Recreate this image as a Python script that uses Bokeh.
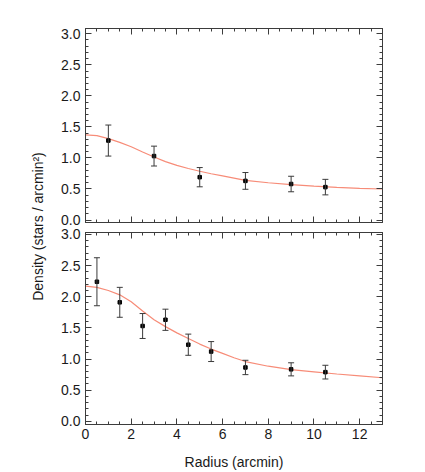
import numpy as np
from bokeh.plotting import figure
from bokeh.models import (Range1d, LinearAxis, SingleIntervalTicker, Whisker,
                          ColumnDataSource, CustomJSTickFormatter, TeeHead,
                          NumeralTickFormatter)
from bokeh.layouts import row, column
from bokeh.core.properties import value
from bokeh.embed import file_html
from bokeh.resources import INLINE

# ---------------- data ----------------
top_r = [1.0, 3.0, 5.0, 7.0, 9.0, 10.5]
top_density = [1.28, 1.03, 0.69, 0.63, 0.58, 0.53]
top_err = [0.25, 0.16, 0.155, 0.135, 0.125, 0.125]

bot_r = [0.5, 1.5, 2.5, 3.5, 4.5, 5.5, 7.0, 9.0, 10.5]
bot_density = [2.24, 1.91, 1.53, 1.63, 1.23, 1.12, 0.865, 0.835, 0.79]
bot_err = [0.385, 0.24, 0.20, 0.17, 0.17, 0.16, 0.115, 0.105, 0.11]

fit_r_top = [0, 0.5, 1, 1.5, 2, 2.5, 3, 3.5, 4, 4.5, 5, 5.5, 6, 6.5, 7, 8, 9, 10, 11, 12, 13]
fit_top = [1.37, 1.36, 1.31, 1.25, 1.18, 1.095, 1.015, 0.94, 0.88, 0.83, 0.785,
           0.745, 0.71, 0.675, 0.64, 0.60, 0.57, 0.545, 0.525, 0.51, 0.50]

fit_r_bot = [0, 0.5, 1, 1.5, 2, 2.5, 3, 3.5, 4, 4.5, 5, 5.5, 6, 6.5, 7, 8, 9, 10, 11, 12, 13]
fit_bot = [2.17, 2.15, 2.10, 2.03, 1.92, 1.77, 1.63, 1.52, 1.42, 1.33, 1.24,
           1.16, 1.09, 1.02, 0.96, 0.885, 0.83, 0.795, 0.76, 0.73, 0.70]

x_label = "Radius (arcmin)"
y_label = "Density (stars / arcmin²)"

FONT = "Liberation Sans"
AX = "#3c3c3c"
TXT = "#1a1a1a"
FIT = "#F78C78"
ERR = "#3a3a3a"


def style_axis(ax, is_x, labels):
    if is_x:
        ax.ticker = SingleIntervalTicker(interval=2, num_minor_ticks=4)
    else:
        ax.ticker = SingleIntervalTicker(interval=0.5, num_minor_ticks=5)
        ax.formatter = NumeralTickFormatter(format="0.0")
    ax.major_tick_in = 6
    ax.major_tick_out = 0
    ax.minor_tick_in = 3
    ax.minor_tick_out = 0
    ax.axis_line_color = AX
    ax.major_tick_line_color = AX
    ax.minor_tick_line_color = AX
    ax.major_label_text_font = FONT
    ax.major_label_text_font_size = "14px"
    ax.major_label_text_color = TXT
    ax.major_label_standoff = 5
    if not labels:
        ax.formatter = CustomJSTickFormatter(code="return ''")
        ax.major_label_text_font_size = "0px"
        ax.major_label_standoff = 0


def make_panel(ymin, ymax, fh, tb, bb, xlabels, r, d, e, fr, fy):
    p = figure(frame_width=297, frame_height=fh,
               x_range=Range1d(0, 13), y_range=Range1d(ymin, ymax),
               output_backend="svg", toolbar_location=None,
               min_border_left=37, min_border_right=10,
               min_border_top=tb, min_border_bottom=bb)
    p.grid.visible = False
    p.outline_line_color = AX
    p.background_fill_color = "white"
    p.border_fill_color = "white"
    p.add_layout(LinearAxis(), "above")
    p.add_layout(LinearAxis(), "right")
    style_axis(p.below[0], True, xlabels)
    style_axis(p.above[0], True, False)
    style_axis(p.left[0], False, True)
    style_axis(p.right[0], False, False)

    up = [a + b for a, b in zip(d, e)]
    lo = [a - b for a, b in zip(d, e)]
    src = ColumnDataSource(dict(r=r, d=d, up=up, lo=lo))
    p.line(fr, fy, line_color=FIT, line_width=1.2)
    w = Whisker(base="r", upper="up", lower="lo", source=src,
                line_color=ERR, line_width=1,
                upper_head=TeeHead(size=6, line_color=ERR, line_width=1),
                lower_head=TeeHead(size=6, line_color=ERR, line_width=1),
                level="glyph")
    p.add_layout(w)
    p.scatter("r", "d", source=src, marker="square", size=3.5,
              fill_color="black", line_color="black")
    return p


p1 = make_panel(-0.04, 3.085, 194, 28, 5, False,
                top_r, top_density, top_err, fit_r_top, fit_top)
p2 = make_panel(-0.05, 3.03, 192, 5, 46, True,
                bot_r, bot_density, bot_err, fit_r_bot, fit_bot)
p2.below[0].axis_label = x_label
p2.below[0].major_label_standoff = 4
p2.below[0].axis_label_text_font = FONT
p2.below[0].axis_label_text_font_size = "14px"
p2.below[0].axis_label_text_font_style = "normal"
p2.below[0].axis_label_text_color = TXT
p2.below[0].axis_label_standoff = 12

TOTAL_H = 28 + 194 + 5 + 5 + 192 + 46
lab = figure(width=48, height=TOTAL_H, x_range=Range1d(0, 48), y_range=Range1d(0, TOTAL_H),
             output_backend="svg", toolbar_location=None,
             x_axis_location=None, y_axis_location=None,
             min_border=0, min_border_left=0, min_border_right=0,
             min_border_top=0, min_border_bottom=0)
lab.grid.visible = False
lab.outline_line_color = None
lab.text(x=[37], y=[TOTAL_H - 226], text=[y_label], angle=np.pi / 2,
         text_align="center", text_baseline="middle",
         text_font=value(FONT), text_font_size="14px", text_color=TXT)

layout = row(lab, column(p1, p2))
open("out.html", "w").write(file_html(layout, INLINE))
